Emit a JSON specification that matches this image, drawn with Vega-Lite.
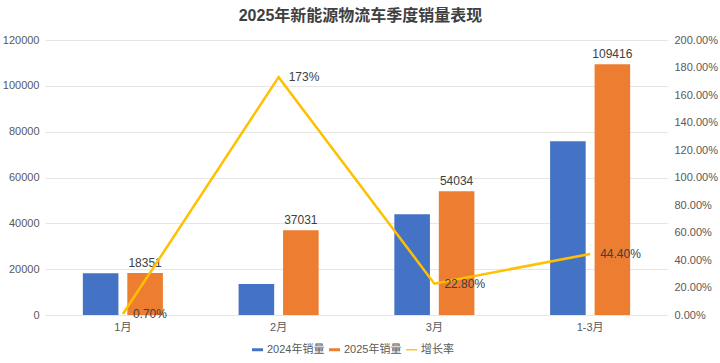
{
  "$schema": "https://vega.github.io/schema/vega-lite/v6.json",
  "width": 623,
  "height": 275,
  "autosize": {"type": "none"},
  "padding": {"left": 45, "top": 40, "right": 52, "bottom": 48},
  "background": "white",
  "config": {
    "font": "Arial, Liberation Sans, Noto Sans CJK SC, sans-serif",
    "view": {"stroke": null}
  },
  "title": {
    "text": "2025年新能源物流车季度销量表现",
    "fontSize": 16,
    "fontWeight": "bold",
    "color": "#404040",
    "anchor": "middle",
    "frame": "group",
    "offset": 10,
    "dx": 4
  },
  "layer": [
    {
      "data": {
        "values": [
          {"月份": "1月", "系列": "2024年销量", "销量": 18223},
          {"月份": "1月", "系列": "2025年销量", "销量": 18351},
          {"月份": "2月", "系列": "2024年销量", "销量": 13564},
          {"月份": "2月", "系列": "2025年销量", "销量": 37031},
          {"月份": "3月", "系列": "2024年销量", "销量": 44002},
          {"月份": "3月", "系列": "2025年销量", "销量": 54034},
          {"月份": "1-3月", "系列": "2024年销量", "销量": 75773},
          {"月份": "1-3月", "系列": "2025年销量", "销量": 109416}
        ]
      },
      "encoding": {
        "x": {
          "field": "月份",
          "type": "nominal",
          "sort": ["1月", "2月", "3月", "1-3月"],
          "scale": {"paddingInner": 0.486, "paddingOuter": 0.243},
          "axis": {
            "title": null,
            "labelAngle": 0,
            "ticks": false,
            "domain": false,
            "labelColor": "#595959",
            "labelFontSize": 11,
            "labelPadding": 6
          }
        },
        "xOffset": {
          "field": "系列",
          "type": "nominal",
          "scale": {"paddingInner": 0.2, "paddingOuter": 0}
        },
        "y": {
          "field": "销量",
          "type": "quantitative",
          "scale": {"domain": [0, 120000], "nice": false},
          "axis": {
            "title": null,
            "values": [0, 20000, 40000, 60000, 80000, 100000, 120000],
            "format": "d",
            "ticks": false,
            "domain": false,
            "labelColor": "#595959",
            "labelFontSize": 11,
            "labelPadding": 6,
            "gridColor": "#e6e6e6",
            "gridWidth": 1
          }
        }
      },
      "layer": [
        {
          "mark": {"type": "bar"},
          "encoding": {
            "color": {
              "field": "系列",
              "type": "nominal",
              "scale": {
                "domain": ["2024年销量", "2025年销量", "增长率"],
                "range": ["#4472C4", "#ED7D31", "#FFC000"]
              },
              "legend": {
                "title": null,
                "orient": "none",
                "direction": "horizontal",
                "legendX": 207,
                "legendY": 304,
                "symbolSize": 121,
                "symbolType": "M-1,-0.27H1V0.27H-1Z",
                "symbolStrokeWidth": 0,
                "labelFontSize": 11,
                "labelColor": "#595959",
                "labelOffset": 4,
                "columnPadding": 4,
                "encode": {
                  "symbols": {
                    "update": {
                      "shape": {"signal": "datum.value === '增长率' ? 'M-1,-0.12H1V0.12H-1Z' : 'M-1,-0.27H1V0.27H-1Z'"}
                    }
                  }
                }
              }
            }
          }
        },
        {
          "transform": [{"filter": "datum['系列'] === '2025年销量'"}],
          "mark": {"type": "text", "dy": -10, "fontSize": 12, "color": "#404040"},
          "encoding": {
            "text": {"field": "销量", "type": "quantitative", "format": "d"}
          }
        }
      ]
    },
    {
      "data": {
        "values": [
          {"月份": "1月", "增长率": 0.007, "标签": "0.70%"},
          {"月份": "2月", "增长率": 1.73, "标签": "173%"},
          {"月份": "3月", "增长率": 0.228, "标签": "22.80%"},
          {"月份": "1-3月", "增长率": 0.444, "标签": "44.40%"}
        ]
      },
      "encoding": {
        "x": {"field": "月份", "type": "nominal", "sort": ["1月", "2月", "3月", "1-3月"]},
        "y": {
          "field": "增长率",
          "type": "quantitative",
          "scale": {"domain": [0, 2], "nice": false},
          "axis": {
            "orient": "right",
            "title": null,
            "values": [0, 0.2, 0.4, 0.6, 0.8, 1, 1.2, 1.4, 1.6, 1.8, 2],
            "format": ".2%",
            "grid": false,
            "ticks": false,
            "domain": false,
            "labelColor": "#595959",
            "labelFontSize": 11,
            "labelPadding": 6
          }
        }
      },
      "layer": [
        {
          "mark": {"type": "line", "color": "#FFC000", "strokeWidth": 2.5}
        },
        {
          "mark": {"type": "text", "align": "left", "baseline": "middle", "dx": 10, "fontSize": 12, "color": "#404040"},
          "encoding": {"text": {"field": "标签", "type": "nominal"}}
        }
      ]
    }
  ],
  "resolve": {"scale": {"y": "independent"}}
}
